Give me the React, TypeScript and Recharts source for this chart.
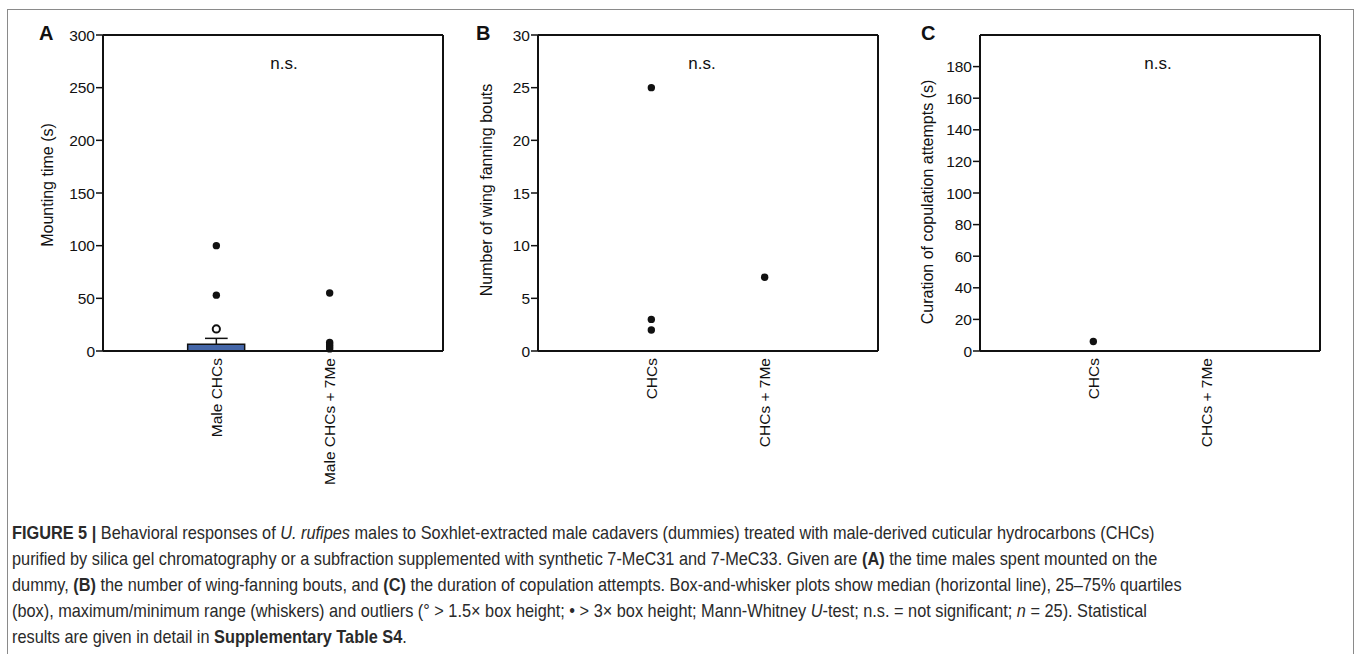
import React from "react";
import {
  ComposedChart,
  Bar,
  Scatter,
  XAxis,
  YAxis,
  ReferenceLine,
} from "recharts";

// group names under each panel
const groupsA = ["Male CHCs", "Male CHCs + 7Me"];
const groupsBC = ["CHCs", "CHCs + 7Me"];

// panel A: mounting time (s)
const boxLowA = [0, 0];
const boxHighA = [6.5, 0];
const whiskerA = [12, 0];
const nearOutA = [[21], []];
const farOutA = [[100, 53], [55, 8, 6, 4, 2]];
const ticksA = [0, 50, 100, 150, 200, 250, 300];

// panel B: number of wing fanning bouts
const boxLowB = [0, 0];
const boxHighB = [0, 0];
const whiskerB = [0, 0];
const nearOutB = [[], []];
const farOutB = [[25, 3, 2], [7]];
const ticksB = [0, 5, 10, 15, 20, 25, 30];

// panel C: duration of copulation attempts (s)
const boxLowC = [0, 0];
const boxHighC = [0, 0];
const whiskerC = [0, 0];
const nearOutC = [[], []];
const farOutC = [[6], []];
const ticksC = [0, 20, 40, 60, 80, 100, 120, 140, 160, 180];

const font = '"Liberation Sans", Arial, Helvetica, sans-serif';
const ink = "#111";
const chartH = 510;

interface PanelProps {
  letter: string;
  title: string;
  groups: string[];
  boxLow: number[];
  boxHigh: number[];
  whisker: number[];
  nearOut: number[][];
  farOut: number[][];
  yTicks: number[];
  yMax: number;
  left: number;
  width: number;
  yAxisWidth: number;
  marginRight: number;
  letterX: number;
  titleX: number;
  titleY: number;
  nsX: number;
}

function XTick(props: any) {
  const { x, y, payload, names } = props;
  const name = names[payload.value - 1];
  if (!name || y < 100) return null;
  return (
    <text
      x={x}
      y={y}
      transform={`rotate(-90, ${x}, ${y})`}
      textAnchor="end"
      dy="0.36em"
      fontSize={15.5}
      fontFamily={font}
      fill={ink}
    >
      {name}
    </text>
  );
}

function Panel(p: PanelProps) {
  const boxData = p.groups.map((_g, i) => ({
    x: i + 1,
    box: [p.boxLow[i], p.boxHigh[i]],
  }));
  const far = p.farOut.flatMap((vals, i) => vals.map((v) => ({ x: i + 1, y: v })));
  const near = p.nearOut.flatMap((vals, i) => vals.map((v) => ({ x: i + 1, y: v })));
  const hasBox = p.boxHigh.some((v) => v > 0);

  return (
    <>
      <div
        style={{
          position: "absolute",
          left: p.letterX,
          top: 22,
          fontFamily: font,
          fontWeight: "bold",
          fontSize: 20,
          color: ink,
        }}
      >
        {p.letter}
      </div>
      <div
        style={{
          position: "absolute",
          left: p.titleX - 150,
          top: p.titleY - 10,
          width: 300,
          height: 20,
          lineHeight: "20px",
          textAlign: "center",
          transform: "rotate(-90deg)",
          fontFamily: font,
          fontSize: 16,
          color: ink,
          whiteSpace: "nowrap",
        }}
      >
        {p.title}
      </div>
      <div
        style={{
          position: "absolute",
          left: p.nsX - 30,
          top: 54,
          width: 60,
          textAlign: "center",
          fontFamily: font,
          fontSize: 17,
          color: ink,
        }}
      >
        n.s.
      </div>
      <div style={{ position: "absolute", left: p.left, top: 0 }}>
        <ComposedChart
          width={p.width}
          height={chartH}
          data={boxData}
          margin={{ top: 35, right: p.marginRight, bottom: 0, left: 0 }}
        >
          <XAxis
            dataKey="x"
            type="number"
            domain={[0, 3]}
            ticks={[1, 2]}
            height={chartH - 35 - 316}
            tickLine={false}
            tickSize={0}
            tickMargin={7}
            axisLine={{ stroke: ink, strokeWidth: 2 }}
            tick={<XTick names={p.groups} />}
          />
          <YAxis
            type="number"
            domain={[0, p.yMax]}
            ticks={p.yTicks}
            width={p.yAxisWidth}
            tickSize={7}
            tickMargin={1}
            interval={0}
            axisLine={{ stroke: ink, strokeWidth: 2 }}
            tickLine={{ stroke: ink, strokeWidth: 1.5 }}
            tick={{ fontSize: 15.5, fill: ink, fontFamily: font }}
          />
          {/* closing frame of the plot box */}
          <ReferenceLine y={p.yMax} stroke={ink} strokeWidth={2} />
          <ReferenceLine x={3} stroke={ink} strokeWidth={2} />
          {hasBox && (
            <Bar
              dataKey="box"
              barSize={57}
              fill="#4466a8"
              stroke={ink}
              strokeWidth={1.5}
              isAnimationActive={false}
            />
          )}
          {p.whisker.map((w, i) =>
            w > p.boxHigh[i] ? (
              <ReferenceLine
                key={`w${i}`}
                segment={[
                  { x: i + 1, y: p.boxHigh[i] },
                  { x: i + 1, y: w },
                ]}
                stroke={ink}
                strokeWidth={1.5}
              />
            ) : null,
          )}
          {p.whisker.map((w, i) =>
            w > p.boxHigh[i] ? (
              <ReferenceLine
                key={`c${i}`}
                segment={[
                  { x: i + 0.9, y: w },
                  { x: i + 1.1, y: w },
                ]}
                stroke={ink}
                strokeWidth={1.5}
              />
            ) : null,
          )}
          {near.length > 0 && (
            <Scatter
              data={near}
              dataKey="y"
              fill="#fff"
              stroke={ink}
              strokeWidth={2}
              shape={(s: any) => (
                <circle cx={s.cx} cy={s.cy} r={3.6} fill="#fff" stroke={ink} strokeWidth={2} />
              )}
              isAnimationActive={false}
            />
          )}
          <Scatter
            data={far}
            dataKey="y"
            fill={ink}
            shape={(s: any) => <circle cx={s.cx} cy={s.cy} r={3.7} fill={ink} />}
            isAnimationActive={false}
          />
        </ComposedChart>
      </div>
    </>
  );
}

const capStyle: React.CSSProperties = {
  whiteSpace: "nowrap",
  height: 26,
  lineHeight: "26px",
};

export default function App() {
  return (
    <div
      style={{
        position: "absolute",
        left: 0,
        top: 0,
        width: 1357,
        height: 654,
        overflow: "hidden",
        background: "#fff",
      }}
    >
      <div
        style={{
          position: "absolute",
          left: 7,
          top: 9,
          width: 1345,
          height: 700,
          border: "1.5px solid #8a8a8a",
        }}
      />
      <Panel
        letter="A"
        title="Mounting time (s)"
        groups={groupsA}
        boxLow={boxLowA}
        boxHigh={boxHighA}
        whisker={whiskerA}
        nearOut={nearOutA}
        farOut={farOutA}
        yTicks={ticksA}
        yMax={300}
        left={0}
        width={460}
        yAxisWidth={103}
        marginRight={17}
        letterX={39}
        titleX={48}
        titleY={185}
        nsX={284}
      />
      <Panel
        letter="B"
        title="Number of wing fanning bouts"
        groups={groupsBC}
        boxLow={boxLowB}
        boxHigh={boxHighB}
        whisker={whiskerB}
        nearOut={nearOutB}
        farOut={farOutB}
        yTicks={ticksB}
        yMax={30}
        left={460}
        width={430}
        yAxisWidth={78}
        marginRight={12}
        letterX={476}
        titleX={487}
        titleY={190}
        nsX={702}
      />
      <Panel
        letter="C"
        title="Curation of copulation attempts (s)"
        groups={groupsBC}
        boxLow={boxLowC}
        boxHigh={boxHighC}
        whisker={whiskerC}
        nearOut={nearOutC}
        farOut={farOutC}
        yTicks={ticksC}
        yMax={200}
        left={890}
        width={467}
        yAxisWidth={90}
        marginRight={37}
        letterX={921}
        titleX={928}
        titleY={202}
        nsX={1158}
      />
      <div
        style={{
          position: "absolute",
          left: 12,
          top: 520,
          fontFamily: font,
          fontSize: 19,
          color: "#2a2a2a",
          transform: "scaleX(0.858)",
          transformOrigin: "0 0",
        }}
      >
        <div style={capStyle}>
          <b>FIGURE 5 |</b> Behavioral responses of <i>U. rufipes</i> males to Soxhlet-extracted
          male cadavers (dummies) treated with male-derived cuticular hydrocarbons (CHCs)
        </div>
        <div style={capStyle}>
          purified by silica gel chromatography or a subfraction supplemented with synthetic
          7-MeC31 and 7-MeC33. Given are <b>(A)</b> the time males spent mounted on the
        </div>
        <div style={capStyle}>
          dummy, <b>(B)</b> the number of wing-fanning bouts, and <b>(C)</b> the duration of
          copulation attempts. Box-and-whisker plots show median (horizontal line), 25–75% quartiles
        </div>
        <div style={capStyle}>
          (box), maximum/minimum range (whiskers) and outliers (° &gt; 1.5× box height; • &gt; 3× box
          height; Mann-Whitney <i>U</i>-test; n.s. = not significant; <i>n</i> = 25). Statistical
        </div>
        <div style={capStyle}>
          results are given in detail in <b>Supplementary Table S4</b>.
        </div>
      </div>
    </div>
  );
}
